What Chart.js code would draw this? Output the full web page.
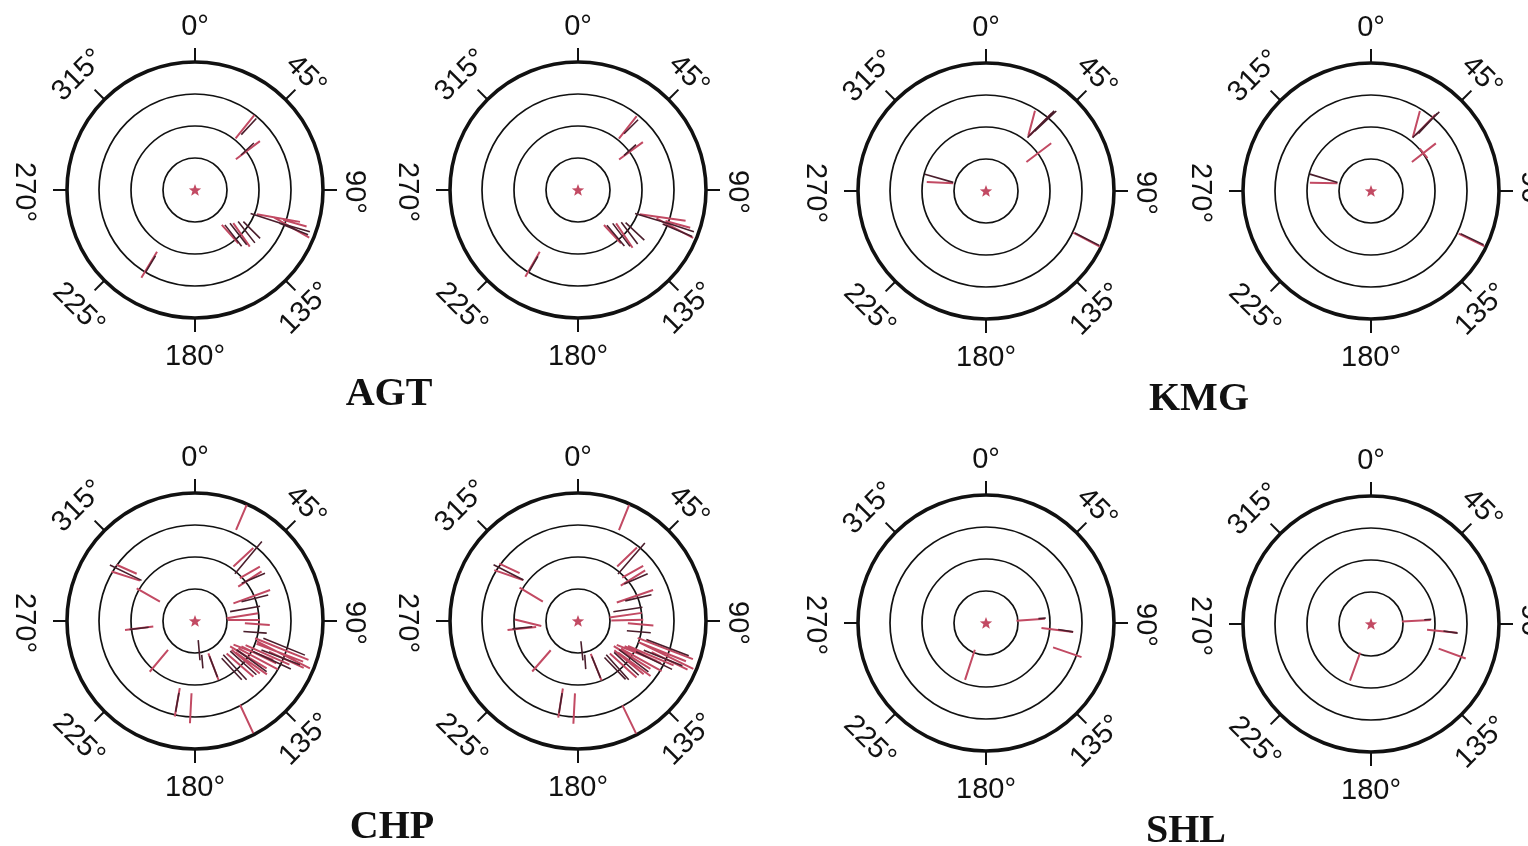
<!DOCTYPE html>
<html lang="en">
<head>
<meta charset="UTF-8">
<title>Splitting parameters AGT KMG CHP SHL</title>
<script src="https://cdn.jsdelivr.net/npm/chart.js"></script>
<style>
    html, body {
        margin: 0;
        padding: 0;
        background: #fff;
        overflow: hidden;
    }
    body {
        width: 1528px;
        height: 846px;
        position: relative;
    }
    canvas.polar {
        position: absolute;
    }
    .station {
        position: absolute;
        font-family: "Liberation Serif", "Times New Roman", serif;
        font-weight: bold;
        font-size: 40px;
        line-height: 1;
        color: #111;
        transform: translate(-50%, -50%);
    }
</style>
</head>
<body>

<canvas class="polar" id="p1" width="420" height="420"></canvas>
<canvas class="polar" id="p2" width="420" height="420"></canvas>
<canvas class="polar" id="p3" width="420" height="420"></canvas>
<canvas class="polar" id="p4" width="420" height="420"></canvas>
<canvas class="polar" id="p5" width="420" height="420"></canvas>
<canvas class="polar" id="p6" width="420" height="420"></canvas>
<canvas class="polar" id="p7" width="420" height="420"></canvas>
<canvas class="polar" id="p8" width="420" height="420"></canvas>

<div class="station" style="left:389px; top:392px;">AGT</div>
<div class="station" style="left:1199px; top:397px;">KMG</div>
<div class="station" style="left:392px; top:825px;">CHP</div>
<div class="station" style="left:1186px; top:829px;">SHL</div>

<script>
// rings = incidence angle (deg), ticks = back azimuth
const rings = [10, 20, 30, 40];
const angleTicks = [0, 45, 90, 135, 180, 225, 270, 315];

// each measurement: [back azimuth, incidence, fast direction, delay (s)]
// A = dark lines, B = red lines
const AGT_L_A = [
    [40.3, 26.0, 43, 0.69], [52, 20.8, 47, 0.55],
    [111.7, 25.3, 108, 1.29], [111.5, 33.2, 112, 0.96], [110.4, 34.4, 106, 0.76],
    [140, 18.6, 142, 0.85], [135.4, 19.3, 142, 0.85], [129.3, 20.8, 142, 0.85], [125.2, 21.7, 135, 0.74],
    [211, 27.0, 31, 0.60]
];
const AGT_L_B = [
    [38.3, 25.2, 39, 0.93], [53, 20.7, 53, 0.94],
    [108.6, 27.5, 100, 1.37], [111.2, 32.3, 120, 1.29], [108.4, 32.9, 106, 0.76],
    [141.5, 17.6, 138, 0.77], [134, 20.2, 145, 0.90],
    [211.5, 27.4, 31, 0.95]
];
const AGT_R_A = [
    [40, 25.8, 45, 0.62], [52.5, 20.5, 48, 0.50],
    [111, 25.5, 107, 1.25], [112, 33.5, 113, 1.0], [110, 34.5, 108, 0.8],
    [140.5, 18.5, 140, 0.85], [136, 19.5, 143, 0.9], [130, 21, 143, 0.85], [126, 22, 133, 0.8],
    [211, 27, 30, 0.55]
];
const AGT_R_B = [
    [38.5, 25.0, 38, 0.9], [53.5, 20.6, 54, 0.92],
    [108, 27.8, 98, 1.45], [111.5, 32.5, 118, 1.3], [109, 33, 105, 0.8],
    [142, 17.5, 137, 0.78], [134.5, 20.3, 146, 0.92],
    [211.5, 27.2, 30, 0.9]
];

const KMG_L_A = [
    [39.4, 27.0, 45, 1.18], [40.4, 28.7, 47, 0.92],
    [285.1, 15.2, 106, 0.92],
    [115.5, 35, 117, 0.85]
];
const KMG_L_B = [
    [39.4, 27.0, 45, 0.97], [34, 25.5, 15, 0.81],
    [54, 20.4, 53, 0.97],
    [280.3, 14.6, 93, 0.83],
    [115.8, 34.9, 118, 0.94]
];
const KMG_R_A = [
    [39.7, 26.9, 46, 1.16], [40.1, 27.6, 43, 0.86],
    [285, 15.3, 107, 0.9],
    [115.5, 35, 116, 0.8]
];
const KMG_R_B = [
    [39.5, 26.8, 44, 0.87], [34.2, 25.2, 15, 0.86],
    [54.1, 20.4, 52, 0.95], [54.5, 20.2, 141, 0.38],
    [279.6, 15.0, 91, 0.86],
    [115.9, 34.9, 116, 0.89]
];

const CHP_L_A = [
    [40.1, 25.9, 40, 1.31], [53.8, 22.6, 67, 0.79], [69.3, 20.0, 76, 0.86], [76.5, 16.1, 80, 0.95],
    [100.7, 19.1, 94, 0.73], [106.1, 29, 112, 1.4], [113, 29.1, 111, 1.29], [117, 27, 115, 1.3],
    [139.2, 19.1, 137, 1.07], [142.6, 18.9, 137, 0.92], [125, 21.6, 126, 1.16], [131, 20, 132, 1.1],
    [172, 9.2, 175, 0.63], [169.8, 12.9, 175, 0.42], [158, 15.4, 159, 0.7],
    [192.3, 26, 10, 0.6], [262.5, 17.6, 83, 0.6], [304.9, 26.4, 116, 1.1]
];
const CHP_L_B = [
    [24.1, 35.5, 23, 0.85], [37.2, 25, 47, 0.85], [48.5, 22.9, 60, 0.72], [52.6, 21.6, 57, 0.87],
    [66.8, 19.3, 70, 1.22], [83.6, 14.9, 81, 1.0], [88.8, 15.3, 90, 0.99], [92.8, 19.5, 94, 0.78],
    [107.9, 28.5, 112, 1.8], [111, 29.6, 117, 1.86], [110.5, 28.3, 111, 1.56], [113, 31, 115, 1.2],
    [115, 25, 114, 1.5], [121, 23, 118, 1.4], [127, 22, 125, 1.2],
    [124.3, 20.2, 121, 1.33], [128.7, 20.3, 130, 1.15], [118.2, 20.7, 111, 1.33],
    [134.4, 19.7, 131, 1.11], [118, 22.6, 116, 1.21],
    [158, 15.4, 159, 0.89], [222.2, 16.8, 40, 0.89], [192.3, 26, 10, 0.9], [182.8, 27.3, 3, 0.94],
    [152.2, 34.6, 155, 0.98], [262.5, 17.6, 83, 0.89], [299.1, 16.7, 120, 0.84],
    [303, 25.8, 108, 0.93], [307.1, 26.8, 114, 0.69]
];
const CHP_R_A = [
    [40.5, 25.7, 41, 1.28], [54, 22.4, 66, 0.8], [69, 20.2, 77, 0.84], [77, 16.0, 81, 0.92],
    [100, 19.3, 95, 0.75], [106.5, 29.2, 111, 1.42], [113.5, 29.0, 112, 1.3], [117.5, 26.8, 116, 1.25],
    [139.5, 19.0, 138, 1.05], [142, 18.8, 136, 0.95], [125.5, 21.4, 127, 1.15], [131.5, 20.2, 133, 1.05],
    [172.5, 9.4, 174, 0.6], [170, 13.0, 176, 0.45], [158.5, 15.5, 158, 0.72],
    [192, 26.2, 9, 0.62], [263, 17.5, 84, 0.62], [305, 26.5, 117, 1.05]
];
const CHP_R_B = [
    [24, 35.4, 22, 0.85], [37.5, 25.2, 46, 0.86], [48, 23.0, 61, 0.75], [52, 21.8, 58, 0.9],
    [66.5, 19.4, 71, 1.2], [83, 15.0, 82, 1.02], [89, 15.4, 89, 1.0], [93, 19.6, 95, 0.8],
    [107.5, 28.6, 111, 1.85], [111.5, 29.8, 116, 1.85], [110, 28.0, 112, 1.6], [113.5, 31.2, 116, 1.25],
    [115.5, 25.2, 113, 1.55], [121.5, 23.2, 119, 1.45], [127.5, 22.2, 126, 1.25],
    [124, 20.4, 122, 1.35], [129, 20.5, 129, 1.18], [118.5, 20.9, 112, 1.35],
    [134.5, 19.8, 132, 1.12], [117.5, 22.8, 115, 1.25],
    [158.5, 15.5, 158, 0.9], [222.5, 16.9, 41, 0.88], [192, 26.2, 9, 0.92], [182.5, 27.4, 3, 0.95],
    [152.5, 34.7, 154, 0.98], [262.5, 17.7, 84, 0.9], [268, 15.6, 104, 0.85], [299.5, 16.8, 121, 0.85],
    [303.5, 26.0, 109, 0.95], [307.5, 27.0, 115, 0.7]
];

const SHL_L_A = [
    [85.2, 17.6, 85, 0.23], [95.5, 25.0, 99, 0.47]
];
const SHL_L_B = [
    [85.7, 14.0, 86, 0.89], [95.6, 22.4, 97, 1.0], [109.8, 27.0, 109, 0.94], [201, 14.0, 18, 0.99]
];
const SHL_R_A = [
    [85.5, 17.8, 86, 0.22], [95.8, 25.0, 98, 0.45]
];
const SHL_R_B = [
    [86, 14.2, 87, 0.9], [95.8, 22.3, 96, 0.94], [110, 27.0, 110, 0.9], [200.5, 14.2, 20, 0.93]
];

const DT_SCALE = 10;      // plot units per second of delay
const HALF_SPAN = 65.625; // 210 px at 3.2 px per degree of incidence
const DARK = '#4a1e2c';
const RED = '#c24a63';

const panels = [
    { id: 'p1', cx: 195, cy: 190, a: AGT_L_A, b: AGT_L_B },
    { id: 'p2', cx: 578, cy: 190, a: AGT_R_A, b: AGT_R_B },
    { id: 'p3', cx: 986, cy: 191, a: KMG_L_A, b: KMG_L_B },
    { id: 'p4', cx: 1371, cy: 191, a: KMG_R_A, b: KMG_R_B },
    { id: 'p5', cx: 195, cy: 621, a: CHP_L_A, b: CHP_L_B },
    { id: 'p6', cx: 578, cy: 621, a: CHP_R_A, b: CHP_R_B },
    { id: 'p7', cx: 986, cy: 623, a: SHL_L_A, b: SHL_L_B },
    { id: 'p8', cx: 1371, cy: 624, a: SHL_R_A, b: SHL_R_B }
];

// turn measurements into short bars, split by NaN gaps
function segData(list) {
    const pts = [];
    list.forEach(([baz, inc, phi, dt]) => {
        const a = baz * Math.PI / 180, p = phi * Math.PI / 180;
        const mx = inc * Math.sin(a), my = inc * Math.cos(a);
        const h = dt * DT_SCALE / 2;
        pts.push({ x: mx - h * Math.sin(p), y: my - h * Math.cos(p) });
        pts.push({ x: mx + h * Math.sin(p), y: my + h * Math.cos(p) });
        pts.push({ x: NaN, y: NaN });
    });
    return pts;
}

// filled five point star for the station marker
const star = document.createElement('canvas');
star.width = 14;
star.height = 14;
(function () {
    const c = star.getContext('2d');
    c.fillStyle = RED;
    c.beginPath();
    for (let i = 0; i < 10; i++) {
        const r = i % 2 === 0 ? 6.5 : 2.7;
        const t = -Math.PI / 2 + i * Math.PI / 5;
        c.lineTo(7 + r * Math.cos(t), 7.5 + r * Math.sin(t));
    }
    c.closePath();
    c.fill();
})();

const polarFrame = {
    id: 'polarFrame',
    beforeDatasetsDraw(chart) {
        const { ctx, scales: { x, y } } = chart;
        const cx = x.getPixelForValue(0), cy = y.getPixelForValue(0);
        ctx.save();
        ctx.strokeStyle = '#111';
        rings.forEach((r, i) => {
            const rp = x.getPixelForValue(r) - cx;
            ctx.lineWidth = i === rings.length - 1 ? 3.6 : 1.7;
            ctx.beginPath();
            ctx.arc(cx, cy, rp, 0, Math.PI * 2);
            ctx.stroke();
        });
        const R = x.getPixelForValue(rings[rings.length - 1]) - cx;
        ctx.lineWidth = 2;
        ctx.fillStyle = '#111';
        ctx.font = '29px "Liberation Sans", Arial, sans-serif';
        ctx.textAlign = 'center';
        ctx.textBaseline = 'middle';
        angleTicks.forEach(a => {
            const t = a * Math.PI / 180;
            const s = Math.sin(t), c = -Math.cos(t);
            ctx.beginPath();
            ctx.moveTo(cx + s * R, cy + c * R);
            ctx.lineTo(cx + s * (R + 14), cy + c * (R + 14));
            ctx.stroke();
            const rot = a <= 90 ? a : (a <= 270 ? a - 180 : a - 360);
            const lr = R + 37;
            // right-hand labels and 270 sit a little further left in the original
            const nudge = (a % 180 === 0 || a === 225 || a === 315) ? 0 : -6;
            ctx.save();
            ctx.translate(cx + s * lr + nudge, cy + c * lr + 2);
            ctx.rotate(rot * Math.PI / 180);
            ctx.fillText(a + '°', 0, 0);
            ctx.restore();
        });
        ctx.restore();
    }
};

panels.forEach(p => {
    const el = document.getElementById(p.id);
    el.style.left = (p.cx - 210) + 'px';
    el.style.top = (p.cy - 210) + 'px';
    new Chart(el.getContext('2d'), {
        type: 'scatter',
        data: {
            datasets: [
                {
                    data: segData(p.a),
                    showLine: true,
                    borderColor: DARK,
                    borderWidth: 1.6,
                    pointRadius: 0,
                    pointHoverRadius: 0,
                    spanGaps: false
                },
                {
                    data: segData(p.b),
                    showLine: true,
                    borderColor: RED,
                    borderWidth: 2,
                    pointRadius: 0,
                    pointHoverRadius: 0,
                    spanGaps: false
                },
                {
                    data: [{ x: 0, y: 0 }],
                    pointStyle: star,
                    pointRadius: 7,
                    pointHoverRadius: 7
                }
            ]
        },
        options: {
            responsive: false,
            animation: false,
            events: [],
            layout: { padding: 0, autoPadding: false },
            scales: {
                x: { type: 'linear', min: -HALF_SPAN, max: HALF_SPAN, display: false },
                y: { type: 'linear', min: -HALF_SPAN, max: HALF_SPAN, display: false }
            },
            plugins: {
                legend: { display: false },
                tooltip: { enabled: false }
            }
        },
        plugins: [polarFrame]
    });
});
</script>
</body>
</html>
